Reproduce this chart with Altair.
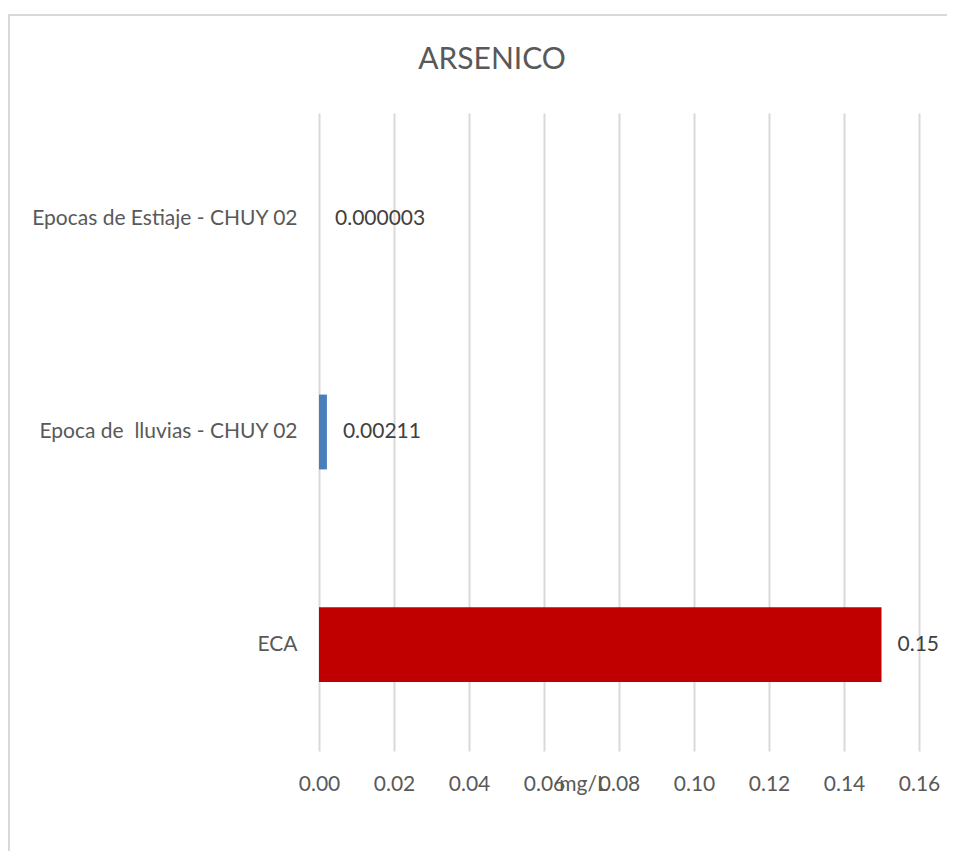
import altair as alt
import pandas as pd

title_text = "ARSENICO"
categories = ["Epocas de Estiaje - CHUY 02", "Epoca de \u00a0lluvias - CHUY 02", "ECA"]
values = [0.000003, 0.00211, 0.15]
labels = ["0.000003", "0.00211", "0.15"]
colors = ["#4a7ebb", "#4a7ebb", "#c00000"]
x_ticks = [0.0, 0.02, 0.04, 0.06, 0.08, 0.10, 0.12, 0.14, 0.16]

df = pd.DataFrame({"cat": categories, "val": values, "lab": labels, "col": colors})
title_df = pd.DataFrame({"t": [title_text]})

FONT = "Lato"
GREY = "#595959"
FS = 21

y_enc = alt.Y(
    "cat:N",
    sort=categories,
    scale=alt.Scale(paddingInner=0.648, paddingOuter=0.324),
    axis=alt.Axis(
        title=None, domain=False, ticks=False, grid=False,
        labelFont=FONT, labelFontSize=FS, labelColor=GREY, labelPadding=22,
        labelLimit=400,
    ),
)
x_enc = alt.X(
    "val:Q",
    scale=alt.Scale(domain=[0, 0.16], nice=False),
    axis=alt.Axis(
        title="mg/L", values=x_ticks, format=".2f",
        domain=False, ticks=False, grid=True, gridColor="#d9d9d9", gridWidth=2,
        labelFont=FONT, labelFontSize=FS, labelColor=GREY, labelPadding=22,
        labelFlush=False, labelOverlap=False,
        titleFont=FONT, titleFontSize=FS, titleColor=GREY, titleFontWeight="normal",
        titleX=264, titleY=33, titleAlign="center", titleBaseline="middle",
    ),
)

border = alt.Chart(df).mark_rect(
    fill=None, stroke="#d9d9d9", strokeWidth=1.5
).encode(
    x=alt.value(-310), x2=alt.value(650), y=alt.value(-98), y2=alt.value(760)
)

title_mark = alt.Chart(title_df).mark_text(
    font=FONT, fontSize=30, color=GREY, align="center", baseline="middle"
).encode(x=alt.value(173), y=alt.value(-53), text="t:N")

bars = alt.Chart(df).mark_bar().encode(
    y=y_enc, x=x_enc, color=alt.Color("col:N", scale=None)
)

text = alt.Chart(df).mark_text(
    align="left", baseline="middle", dx=16, font=FONT, fontSize=FS, color="#404040"
).encode(y=alt.Y("cat:N", sort=categories), x="val:Q", text="lab:N")

chart = alt.layer(border, title_mark, bars, text).properties(
    width=600, height=638,
    padding={"left": 311, "top": 105, "right": 28, "bottom": 100},
    autosize=alt.AutoSizeParams(type="none"),
    background="white",
).configure_view(stroke=None)

chart.save("out.html", embed_options={"renderer": "svg", "actions": False})
